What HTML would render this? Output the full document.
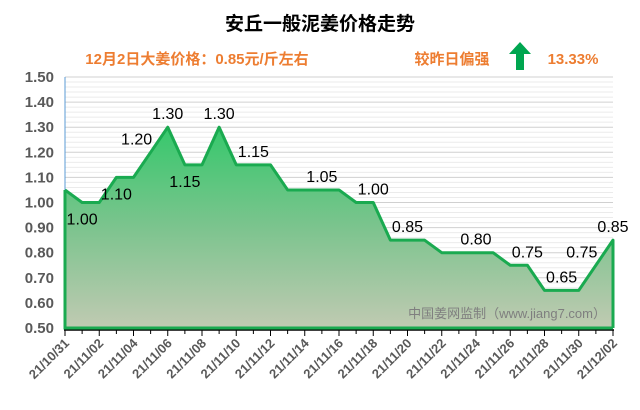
<!DOCTYPE html>
<html><head><meta charset="utf-8"><style>
body{margin:0;background:#fff;}
svg{display:block;font-family:"Liberation Sans","Noto Sans CJK SC",sans-serif;}
</style></head><body>
<svg id="chart" width="640" height="410" viewBox="0 0 640 410">
<defs>
<linearGradient id="fillg" x1="0" y1="0" x2="0" y2="1">
<stop offset="0" stop-color="#36C86C"/>
<stop offset="0.5" stop-color="#7CC48E"/>
<stop offset="1" stop-color="#C0CAB2"/>
</linearGradient>
</defs>
<text x="320" y="30" text-anchor="middle" font-size="19" font-weight="bold" fill="#000">安丘一般泥姜价格走势</text>
<text x="197" y="64" text-anchor="middle" font-size="15" font-weight="bold" fill="#ED7D31">12月2日大姜价格：0.85元/斤左右</text>
<text x="452" y="64" text-anchor="middle" font-size="15" font-weight="bold" fill="#ED7D31">较昨日偏强</text>
<path d="M520 42 L531 54 L524 54 L524 70 L516 70 L516 54 L509 54 Z" fill="#00A650"/>
<text x="573" y="64" text-anchor="middle" font-size="15" font-weight="bold" fill="#ED7D31">13.33%</text>
<g id="grid"></g>
<g id="yaxis"></g>
<path id="area" fill="url(#fillg)"/>
<path id="line" fill="none" stroke="#1AAA50" stroke-width="3" stroke-linejoin="round"/>
<g id="labels"></g>
<text x="606" y="318" text-anchor="end" font-size="13" fill="#7F7F7F">中国姜网监制（www.jiang7.com）</text>
<line x1="64" y1="330" x2="614" y2="330" stroke="#000" stroke-width="1.5"/>
<g id="xaxis"></g>
</svg>
<script>
const dates=["21/10/31","21/11/01","21/11/02","21/11/03","21/11/04","21/11/05","21/11/06","21/11/07","21/11/08","21/11/09","21/11/10","21/11/11","21/11/12","21/11/13","21/11/14","21/11/15","21/11/16","21/11/17","21/11/18","21/11/19","21/11/20","21/11/21","21/11/22","21/11/23","21/11/24","21/11/25","21/11/26","21/11/27","21/11/28","21/11/29","21/11/30","21/12/01","21/12/02"];
const prices=[1.05,1.00,1.00,1.10,1.10,1.20,1.30,1.15,1.15,1.30,1.15,1.15,1.15,1.05,1.05,1.05,1.05,1.00,1.00,0.85,0.85,0.85,0.80,0.80,0.80,0.80,0.75,0.75,0.65,0.65,0.65,0.75,0.85];
const yTicks=[0.5,0.6,0.7,0.8,0.9,1.0,1.1,1.2,1.3,1.4,1.5];
const labelIdx=[1,3,5,6,7,9,11,15,18,20,24,27,29,31,32];
const labelPos=["below","below","aboveleft","above","below","above","above","above","above","above","above","above","above","aboveleft","above"];
const NS="http://www.w3.org/2000/svg";
const X0=65,X1=613,Y0=328,Y1=77,YMIN=0.5,YMAX=1.5;
const x=i=>X0+(X1-X0)*i/(dates.length-1);
const y=v=>Y0-(Y0-Y1)*(v-YMIN)/(YMAX-YMIN);
function mk(tag,attrs,parent){const e=document.createElementNS(NS,tag);for(const k in attrs)e.setAttribute(k,attrs[k]);parent.appendChild(e);return e;}
const grid=document.getElementById('grid'),ya=document.getElementById('yaxis'),xa=document.getElementById('xaxis'),lab=document.getElementById('labels');
for(let v=YMIN;v<=YMAX+1e-9;v+=0.02){
 const major=Math.abs(v*10-Math.round(v*10))<1e-6;
 const l=mk('line',{x1:X0,x2:X1,y1:y(v),y2:y(v),stroke:major?'#D0D0D0':'#EBEBEB','stroke-width':1},grid);
 
 
}
yTicks.forEach(v=>{
 const t=mk('text',{x:54,y:y(v)+5,'text-anchor':'end','font-size':15,'font-weight':'bold',fill:'#595959'},ya);
 t.textContent=v.toFixed(2);
 
 
});
const vl=mk('line',{x1:X0,x2:X0,y1:Y1,y2:330,stroke:'#5B9BD5','stroke-width':1},ya);


let d='';prices.forEach((p,i)=>{d+=(i?'L':'M')+x(i)+' '+y(p)+' ';});
document.getElementById('line').setAttribute('d',d+'L'+x(prices.length-1)+' '+Y0);
document.getElementById('area').setAttribute('d',d+'L'+x(prices.length-1)+' '+Y0+' L'+X0+' '+Y0+' Z');
mk('path',{d:'M'+X0+' '+y(prices[0])+' L'+X0+' '+Y0+' L'+X1+' '+Y0,stroke:'#1AAA50','stroke-width':3,fill:'none'},grid.parentNode);
labelIdx.forEach((i,k)=>{
 const pos=labelPos[k];let tx=x(i),ty;
 if(pos==='below')ty=y(prices[i])+22;else if(pos==='aboveleft'){tx-=14;ty=y(prices[i])-8;}else ty=y(prices[i])-8;
 const t=mk('text',{x:tx,y:ty,'text-anchor':'middle','font-size':16,fill:'#000'},lab);
 t.textContent=prices[i].toFixed(2);
 
 
});
dates.forEach((dt,i)=>{
 const even=i%2===0;
 const tk=mk('line',{x1:x(i),x2:x(i),y1:330,y2:even?336:334,stroke:'#000','stroke-width':1},xa);
 
 
 if(even){
  const tx=x(i)+5,ty=344;
  const t=mk('text',{x:tx,y:ty,'text-anchor':'end','font-size':13,'font-weight':'bold',fill:'#595959',transform:'rotate(-45 '+tx+' '+ty+')'},xa);
  t.textContent=dt;
  
  
 }
});
</script>
</body></html>
